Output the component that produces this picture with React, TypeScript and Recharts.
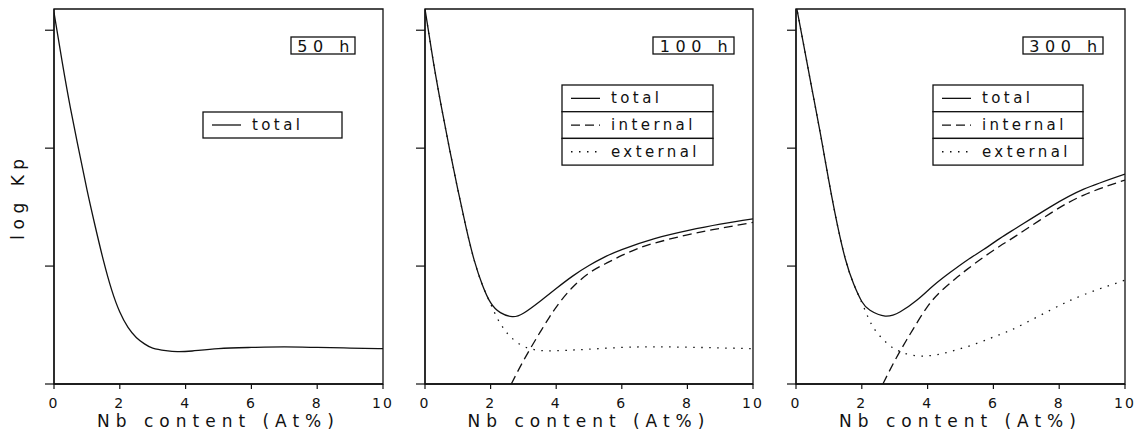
import React from 'react';
import { LineChart, Line, XAxis, YAxis, ReferenceArea, Legend } from 'recharts';

// ---- axes ----
const xTicks = [0, 2, 4, 6, 8, 10];
const yTicks = [0, 1, 2, 3];
const Y_MAX = 3.18;
const titles = ['50 h', '100 h', '300 h'];
const xLabel = 'Nb content (At%)';
const yLabel = 'log Kp';

// ---- panel 1 (50 h) ----
const p1TotalX = [0, 0.25, 0.5, 0.75, 1.0, 1.25, 1.5, 1.75, 2.0, 2.25, 2.5, 2.75, 3.0, 3.4, 3.75, 4.2, 5, 6, 7, 8, 9, 10];
const p1TotalY = [3.15, 2.73, 2.34, 1.99, 1.65, 1.34, 1.05, 0.8, 0.61, 0.48, 0.395, 0.34, 0.305, 0.283, 0.274, 0.28, 0.3, 0.31, 0.315, 0.31, 0.305, 0.3];

// ---- panel 2 (100 h) ----
const p2TotalX = [0, 0.25, 0.5, 0.75, 1.0, 1.25, 1.5, 1.75, 2.0, 2.3, 2.66, 3.0, 3.5, 4.0, 4.5, 5.0, 5.5, 6.0, 7, 8, 9, 10];
const p2TotalY = [3.18, 2.74, 2.35, 1.99, 1.65, 1.33, 1.05, 0.84, 0.69, 0.605, 0.571, 0.6, 0.7, 0.81, 0.915, 1.005, 1.08, 1.14, 1.232, 1.3, 1.355, 1.4];
const p2InternalX = [2.63, 2.9, 3.2, 3.5, 3.8, 4.1, 4.5, 5.0, 5.5, 6.0, 6.5, 7, 8, 9, 10];
const p2InternalY = [0, 0.145, 0.295, 0.435, 0.57, 0.69, 0.82, 0.94, 1.02, 1.09, 1.15, 1.195, 1.265, 1.32, 1.37];
const p2ExternalX = [0, 0.25, 0.5, 0.75, 1.0, 1.25, 1.5, 1.75, 2.0, 2.2, 2.4, 2.61, 3.0, 3.5, 4.0, 4.5, 5, 6, 7, 8, 9, 10];
const p2ExternalY = [3.18, 2.74, 2.35, 1.99, 1.65, 1.33, 1.05, 0.84, 0.68, 0.56, 0.47, 0.4, 0.32, 0.285, 0.282, 0.288, 0.295, 0.31, 0.315, 0.312, 0.306, 0.3];

// ---- panel 3 (300 h) ----
const p3TotalX = [0, 0.25, 0.5, 0.75, 1.0, 1.25, 1.5, 1.75, 2.0, 2.25, 2.71, 3.17, 3.67, 4.18, 4.68, 5.2, 5.7, 6.2, 6.71, 7.72, 8.73, 10];
const p3TotalY = [3.22, 2.85, 2.48, 2.11, 1.72, 1.36, 1.06, 0.85, 0.7, 0.625, 0.576, 0.613, 0.71, 0.835, 0.945, 1.05, 1.14, 1.235, 1.325, 1.5, 1.65, 1.78];
const p3InternalX = [2.64, 2.96, 3.27, 3.57, 3.98, 4.38, 4.79, 5.19, 5.7, 6.2, 6.71, 7.72, 8.73, 10];
const p3InternalY = [0, 0.175, 0.33, 0.47, 0.65, 0.78, 0.88, 0.97, 1.075, 1.17, 1.26, 1.445, 1.6, 1.73];
const p3ExternalX = [0, 0.25, 0.5, 0.75, 1.0, 1.25, 1.5, 1.75, 2.0, 2.2, 2.4, 2.71, 3.17, 3.87, 4.68, 5.5, 6.2, 6.71, 7.72, 8.73, 10];
const p3ExternalY = [3.22, 2.85, 2.48, 2.11, 1.72, 1.36, 1.06, 0.85, 0.69, 0.56, 0.46, 0.36, 0.274, 0.237, 0.274, 0.345, 0.42, 0.48, 0.625, 0.755, 0.88];

const zip = (xs: number[], ys: number[]) => xs.map((x, i) => ({ x, y: ys[i] }));

const FONT = '"DejaVu Sans", sans-serif';
const INK = '#111';
const DASH = '9 5';
const DOT = '1.5 6.5';

type SeriesDef = { name: string; data: { x: number; y: number }[]; dash?: string };

const panels: {
  left: number;
  right: number;
  title: string;
  series: SeriesDef[];
  legendBox: { x: number; y: number; w: number; rowH: number };
  titleBox: { x: number; y: number; w: number; h: number };
}[] = [
  {
    left: 0,
    right: 17,
    title: titles[0],
    series: [{ name: 'total', data: zip(p1TotalX, p1TotalY) }],
    legendBox: { x: 203, y: 112, w: 139, rowH: 26 },
    titleBox: { x: 291, y: 37, w: 64, h: 17 },
  },
  {
    left: 371,
    right: 18,
    title: titles[1],
    series: [
      { name: 'total', data: zip(p2TotalX, p2TotalY) },
      { name: 'internal', data: zip(p2InternalX, p2InternalY), dash: DASH },
      { name: 'external', data: zip(p2ExternalX, p2ExternalY), dash: DOT },
    ],
    legendBox: { x: 191, y: 85, w: 151, rowH: 26.7 },
    titleBox: { x: 282, y: 37, w: 81, h: 17 },
  },
  {
    left: 742,
    right: 17,
    title: titles[2],
    series: [
      { name: 'total', data: zip(p3TotalX, p3TotalY) },
      { name: 'internal', data: zip(p3InternalX, p3InternalY), dash: DASH },
      { name: 'external', data: zip(p3ExternalX, p3ExternalY), dash: DOT },
    ],
    legendBox: { x: 191, y: 85, w: 150, rowH: 26.7 },
    titleBox: { x: 281, y: 37, w: 80, h: 17 },
  },
];

const CW = 400;
const CH = 434;

function Overlay({ p }: { p: (typeof panels)[number] }) {
  const { legendBox: lb, titleBox: tb } = p;
  return (
    <svg width={CW} height={CH} style={{ position: 'absolute', left: 0, top: 0, overflow: 'visible' }}>
      <rect x={tb.x} y={tb.y} width={tb.w} height={tb.h} fill="#fff" stroke={INK} strokeWidth={1.3} />
      <text x={tb.x + tb.w / 2 + 3} y={tb.y + tb.h - 2.5} textAnchor="middle" fontSize={16} fontFamily={FONT} fill={INK} style={{ letterSpacing: 5.5 }}>
        {p.title}
      </text>
      {p.series.map((s, i) => {
        const y0 = lb.y + i * lb.rowH;
        const cy = y0 + lb.rowH / 2;
        return (
          <g key={s.name}>
            <rect x={lb.x} y={y0} width={lb.w} height={lb.rowH} fill="#fff" stroke={INK} strokeWidth={1.3} />
            <line x1={lb.x + 9} x2={lb.x + 38} y1={cy} y2={cy} stroke={INK} strokeWidth={1.3} strokeDasharray={s.dash} />
            <text x={lb.x + 49} y={cy + 5} fontSize={15} fontFamily={FONT} fill={INK} style={{ letterSpacing: 3.4 }}>
              {s.name}
            </text>
          </g>
        );
      })}
    </svg>
  );
}

function Panel({ p, idx }: { p: (typeof panels)[number]; idx: number }) {
  return (
    <div style={{ position: 'absolute', left: p.left, top: 0, width: CW, height: CH }}>
      <LineChart width={CW} height={CH} margin={{ top: 9, right: p.right, left: 0, bottom: 0 }}>
        <XAxis
          dataKey="x"
          type="number"
          domain={[0, 10]}
          ticks={xTicks}
          allowDataOverflow
          height={50}
          tickSize={5}
          tickMargin={9}
          axisLine={{ stroke: INK, strokeWidth: 1.3 }}
          tickLine={{ stroke: INK, strokeWidth: 1.2 }}
          tick={{ fontSize: 14, fill: INK, fontFamily: FONT, style: { letterSpacing: 2 } }}
          label={{ value: xLabel, position: 'insideBottom', offset: 7, fontSize: 17, fill: INK, fontFamily: FONT, style: { letterSpacing: 6 } }}
        />
        <YAxis
          type="number"
          domain={[0, Y_MAX]}
          ticks={yTicks}
          allowDataOverflow
          width={54}
          tickSize={9}
          tickFormatter={() => ''}
          axisLine={{ stroke: INK, strokeWidth: 1.3 }}
          tickLine={{ stroke: INK, strokeWidth: 1.2 }}
          label={
            idx === 0
              ? { value: yLabel, angle: -90, position: 'insideLeft', offset: 18, fontSize: 17, fill: INK, fontFamily: FONT, style: { textAnchor: 'middle', letterSpacing: 5.5 } }
              : undefined
          }
        />
        <ReferenceArea x1={0} x2={10} y1={0} y2={Y_MAX} fill="none" fillOpacity={0} stroke={INK} strokeWidth={1.3} />
        {p.series.map((s) => (
          <Line
            key={s.name}
            name={s.name}
            data={s.data}
            dataKey="y"
            type="natural"
            stroke={INK}
            strokeWidth={1.3}
            strokeDasharray={s.dash}
            dot={false}
            activeDot={false}
            isAnimationActive={false}
          />
        ))}
        <Legend
          layout="horizontal"
          verticalAlign="middle"
          align="center"
          wrapperStyle={{ position: 'absolute', left: 0, top: 0, width: CW, height: CH, pointerEvents: 'none' }}
          content={() => <Overlay p={p} />}
        />
      </LineChart>
    </div>
  );
}

export default function App() {
  return (
    <div style={{ position: 'absolute', left: 0, top: 0, width: 1139, height: 434, background: '#fff', fontFamily: FONT, overflow: 'hidden' }}>
      {panels.map((p, i) => (
        <Panel key={i} p={p} idx={i} />
      ))}
    </div>
  );
}
